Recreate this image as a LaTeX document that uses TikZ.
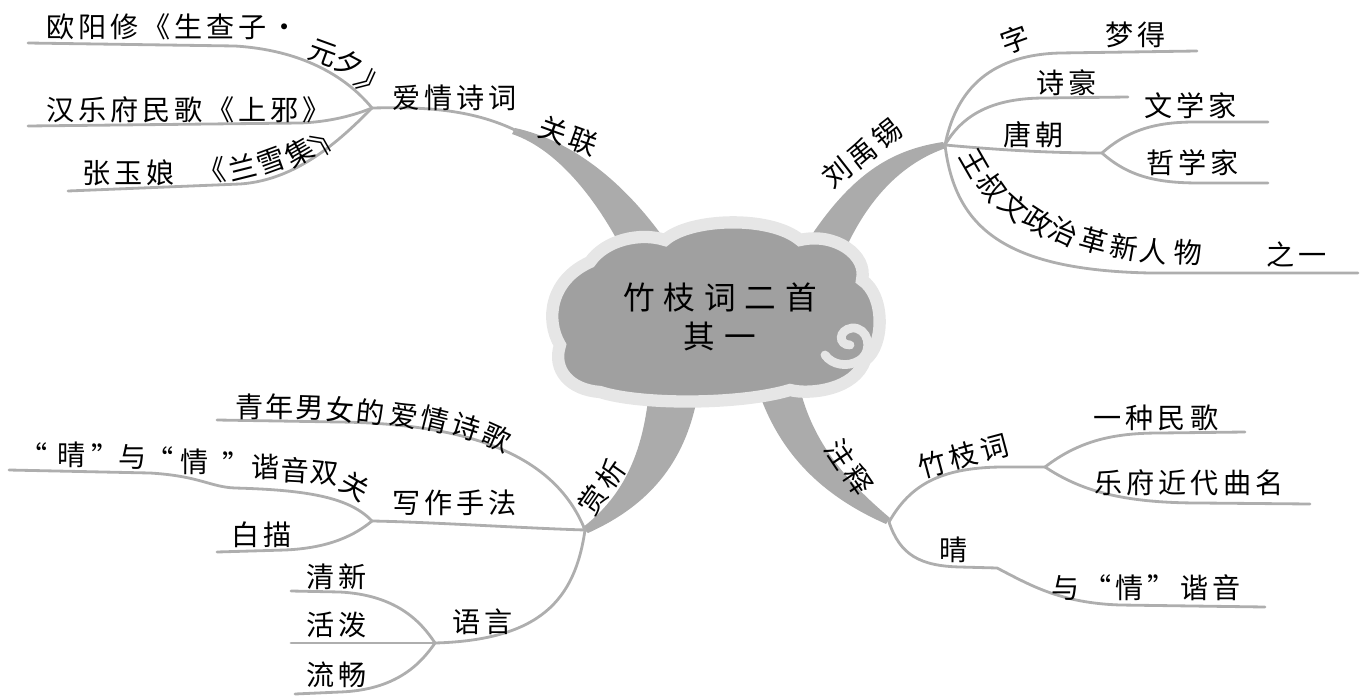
\documentclass[tikz,border=0pt]{standalone}
\usepackage{fontspec}
\setmainfont{Noto Sans CJK SC}[LetterSpace=14]
\newfontfamily\titlefont{Noto Sans CJK SC}[LetterSpace=28]
\definecolor{branchgray}{HTML}{AEAEAE}
\definecolor{trunkgray}{HTML}{ABABAB}
\definecolor{cloudfill}{HTML}{A0A0A0}
\definecolor{cloudrim}{HTML}{E6E6E6}

\begin{document}
\begin{tikzpicture}[x=0.02cm,y=-0.02cm,
    twig/.style={draw=branchgray,line width=1.6pt,line cap=round},
    trunk/.style={fill=trunkgray},
    lbl/.style={font=\fontsize{16}{18}\selectfont,inner sep=0pt},
    title/.style={font=\titlefont\fontsize{18}{22}\selectfont,align=center,inner sep=0pt},
    swirl/.style={draw=cloudrim,line width=5pt,line cap=round}
  ]
  \useasboundingbox (0,0) rectangle (1362,696);

  % hubs
  \coordinate (hubA) at (372,108);
  \coordinate (hubB) at (945,145);
  \coordinate (hubC) at (585,530);
  \coordinate (hubD) at (889,522);
  \coordinate (tang)   at (1102,153);
  \coordinate (xiezuo) at (372,521);
  \coordinate (yuyan)  at (435,643);
  \coordinate (zhuzhi) at (1045,467);

  % free ends
  \coordinate (ouEnd)    at (28,43);
  \coordinate (hanEnd)   at (28,126);
  \coordinate (zhangEnd) at (68,191);
  \coordinate (ziEnd)    at (1197,51);
  \coordinate (haoEnd)   at (1128,97);
  \coordinate (wenEnd)   at (1268,122);
  \coordinate (zheEnd)   at (1268,183);
  \coordinate (wangEnd)  at (1358,273);
  \coordinate (qnEnd)    at (217,420);
  \coordinate (sgEnd)    at (9,470);
  \coordinate (baiEnd)   at (217,552);
  \coordinate (xinEnd)   at (291,591);
  \coordinate (poEnd)    at (291,643);
  \coordinate (changEnd) at (295,694);
  \coordinate (minEnd)   at (1245,432);
  \coordinate (quEnd)    at (1310,504);
  \coordinate (yinEnd)   at (1265,607);

  % trunks
  \fill[trunk] (515,128) .. controls (570,140) and (625,180) .. (672,250)
    -- (625,255) .. controls (600,205) and (560,150) .. (512,134) -- cycle;
  \fill[trunk] (943,142) .. controls (890,150) and (850,175) .. (805,245)
    -- (845,250) .. controls (870,195) and (905,162) .. (946,148) -- cycle;
  \fill[trunk] (582,528) .. controls (625,495) and (645,450) .. (650,380)
    -- (700,380) .. controls (690,460) and (650,505) .. (588,533) -- cycle;
  \fill[trunk] (755,380) .. controls (775,450) and (820,495) .. (886,524)
    -- (890,518) .. controls (845,480) and (810,440) .. (798,380) -- cycle;

  % cloud
  \draw[draw=cloudrim,line width=7pt,fill=cloudfill]
    (560,345) .. controls (545,320) and (550,280) .. (590,262)
    .. controls (605,240) and (640,232) .. (665,240)
    .. controls (690,218) and (770,215) .. (800,240)
    .. controls (835,232) and (868,255) .. (862,280)
    .. controls (885,295) and (885,345) .. (865,360)
    .. controls (855,390) and (810,395) .. (790,390)
    .. controls (740,405) and (640,405) .. (600,392)
    .. controls (570,390) and (552,370) .. (560,345) -- cycle;
  \draw[swirl] (850,345) .. controls (838,345) and (838,330) .. (852,328)
    .. controls (868,327) and (874,350) .. (860,360)
    .. controls (848,368) and (832,365) .. (825,355);
  \node[title] (root) at (720,317) {竹枝词二首\\其一};

  % 关联
  \draw[twig] (hubA) .. controls (420,107) and (470,108) .. (517,131);
  \draw[twig] (ouEnd) -- (235,46) .. controls (300,50) and (345,75) .. (hubA);
  \draw[twig] (hanEnd) -- (300,123) .. controls (330,122) and (355,115) .. (hubA);
  \draw[twig] (zhangEnd) -- (240,184) .. controls (300,180) and (345,135) .. (hubA);
  \node[lbl,anchor=west] (ouyang) at (46,27) {欧阳修《生查子·};
  \foreach \x/\y/\a/\c [count=\i] in {323/53/-20/元,349/64/-28/夕,371/86/-50/》}
    \node[lbl,rotate=\a] (yuanxi\i) at (\x,\y) {\c};
  \node[lbl,anchor=west] (han) at (46,110) {汉乐府民歌《上邪》};
  \node[lbl,anchor=west] (zhang) at (82,173) {张玉娘};
  \foreach \x/\y/\a/\c [count=\i] in {212/171/8/《,242/167/14/兰,271/161/20/雪,299/152/30/集,325/138/55/》}
    \node[lbl,rotate=\a] (lanxue\i) at (\x,\y) {\c};
  \node[lbl] (aiqing) at (455,98) {爱情诗词};
  \node[lbl,rotate=-20] (guanlian) at (568,136) {关联};

  % 刘禹锡
  \draw[twig] (hubB) .. controls (955,95) and (985,55) .. (1060,53) -- (ziEnd);
  \draw[twig] (hubB) .. controls (965,110) and (1000,98) .. (1045,98) -- (haoEnd);
  \draw[twig] (hubB) .. controls (1000,150) and (1050,153) .. (tang);
  \draw[twig] (tang) .. controls (1130,128) and (1160,122) .. (1195,122) -- (wenEnd);
  \draw[twig] (tang) .. controls (1130,178) and (1160,183) .. (1200,183) -- (zheEnd);
  \draw[twig] (hubB) .. controls (955,228) and (1005,270) .. (1150,273) -- (wangEnd);
  \node[lbl,rotate=38] (liu) at (862,153) {刘禹锡};
  \node[lbl,rotate=20] (zi) at (1015,40) {字};
  \node[lbl] (mengde) at (1136,35) {梦得};
  \node[lbl] (shihao) at (1067,83) {诗豪};
  \node[lbl] (tangchao) at (1034,135) {唐朝};
  \node[lbl] (wenxue) at (1191,106) {文学家};
  \node[lbl] (zhexue) at (1193,163) {哲学家};
  \foreach \x/\y/\a/\c [count=\i] in {974/163/-60/王,992/187/-55/叔,1014/207/-42/文,
      1038/221/-33/政,1064/232/-25/治,1094/241/-15/革,1124/247/-10/新,1154/251/-6/人,1188/253/-3/物}
    \node[lbl,rotate=\a] (wang\i) at (\x,\y) {\c};
  \node[lbl] (zhiyi) at (1297,255) {之一};

  % 赏析
  \draw[twig] (qnEnd) -- (340,422) .. controls (470,424) and (555,455) .. (hubC);
  \draw[twig] (hubC) .. controls (520,528) and (430,522) .. (xiezuo);
  \draw[twig] (sgEnd) -- (150,473) .. controls (200,476) and (210,487) .. (235,488)
    .. controls (310,490) and (350,498) .. (xiezuo);
  \draw[twig] (baiEnd) -- (285,550) .. controls (330,548) and (355,535) .. (xiezuo);
  \draw[twig] (hubC) .. controls (575,600) and (540,640) .. (yuyan);
  \draw[twig] (xinEnd) -- (340,592) .. controls (395,595) and (420,620) .. (yuyan);
  \draw[twig] (poEnd) -- (yuyan);
  \draw[twig] (changEnd) -- (340,692) .. controls (395,690) and (420,665) .. (yuyan);
  \node[lbl,rotate=55] (shangxi) at (602,487) {赏析};
  \foreach \x/\y/\a/\c [count=\i] in {250/407/0/青,280/407/0/年,310/408/-2/男,340/410/-4/女,
      371/412/-6/的,404/415/-10/爱,435/420/-14/情,466/427/-18/诗,497/437/-24/歌}
    \node[lbl,rotate=\a] (qingnian\i) at (\x,\y) {\c};
  \foreach \x/\y/\a/\c [count=\i] in {34/455/0/“,72/455/0/晴,106/456/0/”,133/457/0/与,
      160/459/0/“,195/462/0/情,237/464/0/”,266/467/0/谐,295/470/-3/音,324/473/-6/双,355/486/-30/关}
    \node[lbl,rotate=\a] (shuangguan\i) at (\x,\y) {\c};
  \node[lbl] (xiezuol) at (455,503) {写作手法};
  \node[lbl] (baimiao) at (262,535) {白描};
  \node[lbl] (yuyanl) at (483,622) {语言};
  \node[lbl] (qingxin) at (337,577) {清新};
  \node[lbl] (huopo) at (337,625) {活泼};
  \node[lbl] (liuchang) at (337,675) {流畅};

  % 注释
  \draw[twig] (hubD) .. controls (910,485) and (940,468) .. (1000,467) -- (zhuzhi);
  \draw[twig] (zhuzhi) .. controls (1080,440) and (1115,433) .. (1160,433) -- (minEnd);
  \draw[twig] (zhuzhi) .. controls (1080,490) and (1120,503) .. (1200,503) -- (quEnd);
  \draw[twig] (hubD) .. controls (900,555) and (920,566) .. (960,567) -- (997,568)
    .. controls (1030,585) and (1060,603) .. (1120,605) -- (yinEnd);
  \node[lbl,rotate=-56] (zhushi) at (849,467) {注释};
  \node[lbl,rotate=15] (zhuzhici) at (963,456) {竹枝词};
  \node[lbl] (yizhong) at (1156,418) {一种民歌};
  \node[lbl] (yuefu) at (1189,483) {乐府近代曲名};
  \node[lbl] (qing) at (954,550) {晴};
  \node[lbl] (xieyinl) at (1146,588) {与“情”谐音};

\end{tikzpicture}
\end{document}
